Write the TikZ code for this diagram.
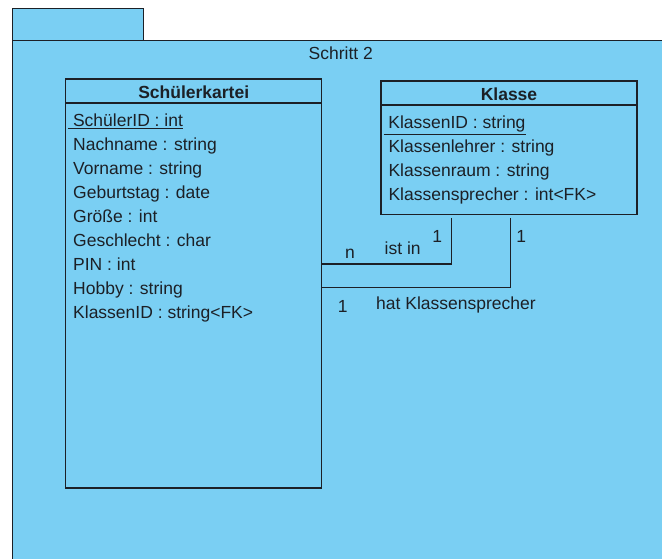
\documentclass[tikz,border=0pt]{standalone}
\usepackage{fontspec}
\setmainfont{Liberation Sans}
\usetikzlibrary{positioning,shapes.multipart}

\definecolor{paketblau}{RGB}{122,207,243}
\definecolor{linie}{RGB}{28,32,38}

% Kopf und Attributliste einer Tabelle
\newcommand{\kopf}[1]{\parbox[c][22.7pt][t]{241pt}{\centering\rule{0pt}{18.5pt}\textbf{#1}}}
\newcommand{\attribute}[2]{\parbox[t][#1][t]{241pt}{\rule{0pt}{23pt}#2}}
\newcommand{\pkey}[1]{\hspace*{-5pt}\underline{\ #1}}

\begin{document}
\begin{tikzpicture}[
      x=1pt, y=-1pt,
      every node/.style={font=\fontsize{17.5}{24}\selectfont, text=linie},
      tabelle/.style={rectangle split, rectangle split parts=2, draw=linie, fill=paketblau,
        line width=1.4pt, inner xsep=7.5pt, inner ysep=0pt, outer sep=0pt},
      beziehung/.style={draw=linie, line width=1.4pt},
      marke/.style={anchor=base}
    ]

    \useasboundingbox (0,0) rectangle (662,558);
    \clip (0,0) rectangle (662,558);

    % Paket mit Reiter
    \draw[beziehung, fill=paketblau] (12.3,8.3) rectangle (143.7,40.7);
    \draw[beziehung, fill=paketblau] (12.3,40.7) rectangle (700,600);
    \node[marke] (paket) at (340.8,59) {Schritt 2};

    % Tabellen: Schuelerkartei und Klasse
    \node[tabelle, anchor=north west] (schueler) at (65.7,79) {
      \kopf{Schülerkartei}
      \nodepart{second}
      \attribute{383.4pt}{\pkey{SchülerID : int}\\ Nachname : string\\ Vorname : string\\
        Geburtstag : date\\ Größe : int\\ Geschlecht : char\\ PIN : int\\ Hobby : string\\
        KlassenID : string<FK>}
    };

    \node[tabelle, below right=2pt and 59.3pt of schueler.north east] (klasse) {
      \kopf{Klasse}
      \nodepart{second}
      \attribute{108pt}{\pkey{KlassenID : string}\\ Klassenlehrer : string\\
        Klassenraum : string\\ Klassensprecher : int<FK>}
    };

    % Beziehungen
    \draw[beziehung] ([xshift=70.3pt,yshift=-3.4pt]klasse.south west) |- ([yshift=-185pt]schueler.north east);
    \draw[beziehung] ([xshift=129.3pt,yshift=-3.4pt]klasse.south west) |- ([yshift=-208.7pt]schueler.north east);

    % Kardinalitaeten und Rollen
    \node[marke] (istinN) at (350,258) {n};
    \node[marke] (istin) at (402.7,254.3) {ist in};
    \node[marke] (istinEins) at (437.3,242.3) {1};
    \node[marke] (sprecherEins) at (521.3,242.3) {1};
    \node[marke] (sprecherSchueler) at (342.7,312) {1};
    \node[marke] (sprecher) at (456,309.3) {hat Klassensprecher};

  \end{tikzpicture}
\end{document}
